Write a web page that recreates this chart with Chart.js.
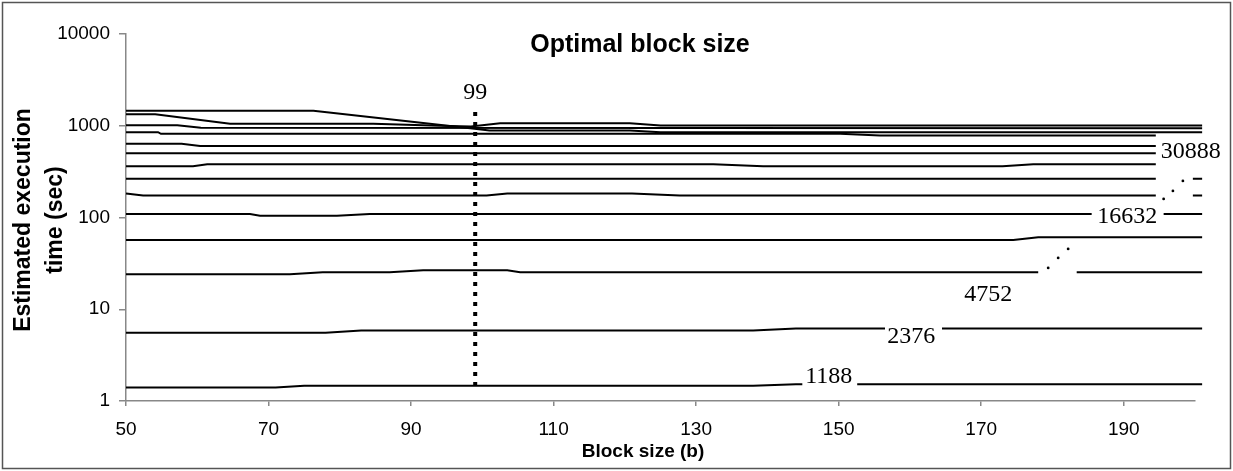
<!DOCTYPE html>
<html>
<head>
<meta charset="utf-8">
<script src="https://cdn.jsdelivr.net/npm/chart.js@4/dist/chart.umd.min.js"></script>
<style>
  html, body { margin: 0; padding: 0; background: #fff; }
  #wrap { width: 1233px; height: 471px; position: relative; }
</style>
</head>
<body>
<div id="wrap"><canvas id="c" width="1233" height="471"></canvas></div>
<script>
// Estimated execution time (sec) against block size b, one curve per matrix size.
// Each curve is given by the block sizes where it bends; null leaves a gap for a label.
const xTicks = [50, 70, 90, 110, 130, 150, 170, 190];
const yTicks = [1, 10, 100, 1000, 10000];

const topA_b = [50, 76.3, 98.3, 101, 120.7, 125, 201];
const topA_t = [1453, 1453, 937, 887, 887, 847, 847];

const topB_b = [50, 54.1, 64.6, 84.7, 94, 98.4, 102.5, 120.7, 125, 201];
const topB_t = [1338, 1338, 1049, 1049, 997, 980, 1062, 1062, 1005, 1005];

const topC_b = [50, 57.2, 60.5, 201];
const topC_t = [1010, 1010, 949, 940];

const topD_b = [50, 54.5, 54.9, 150.2, 155.8, 194.5];
const topD_t = [851, 851, 816, 816, 782, 782];

const c10_b = [50, 57.8, 60.4, 194.5];
const c10_t = [635, 635, 601, 601];

const c9_b = [50, 194.5];
const c9_t = [502, 502];

const c8_b = [50, 59.4, 61.4, 132.4, 139.4, 173, 177.3, 194.5];
const c8_t = [361, 361, 381, 381, 361, 361, 381, 381];

const c7_b = [50, 194.5, 197, 199.7, 201];
const c7_t = [264, 264, null, 264, 264];

const c6_b = [50, 52.4, 100.6, 103.5, 121, 127.7, 194.5, 197, 199.7, 201];
const c6_t = [183, 174, 174, 183, 183, 174, 174, null, 174, 174];

const n16632_b = [50, 67.4, 68.8, 79.6, 84.2, 185.5, 190, 195.6, 201];
const n16632_t = [109.4, 109.4, 104.6, 104.6, 109.4, 109.4, null, 109.4, 109.4];

const c4_b = [50, 174.5, 178, 201];
const c4_t = [57, 57, 61, 61];

const n4752_b = [50, 73, 77.6, 87, 91.7, 103.5, 105.3, 178, 180.5, 183.4, 201];
const n4752_t = [24.1, 24.1, 25.3, 25.3, 26.6, 26.6, 25.3, 25.3, null, 25.3, 25.3];

const n2376_b = [50, 78, 83, 138, 144, 156.5, 160, 164.5, 201];
const n2376_t = [5.56, 5.56, 5.87, 5.87, 6.15, 6.15, null, 6.15, 6.15];

const n1188_b = [50, 71, 75, 138, 144, 144.9, 148, 152.6, 201];
const n1188_t = [1.40, 1.40, 1.47, 1.47, 1.52, 1.52, null, 1.52, 1.52];

// Optimal block size marker
const optimalB = 99;
const optimalSpan = [1.46, 1420];

// Labels written on the curves, in data coordinates
const labelText = ['99', '1188', '2376', '4752', '16632', '30888'];
const labelB    = [99, 148.6, 160.2, 171.0, 190.5, 199.4];
const labelT    = [2286, 1.84, 5.03, 14.3, 101.5, 523];

// Ellipsis dots standing for the curves that are not labelled
const dotB = [179.4, 180.8, 182.2, 195.6, 196.9, 198.3];
const dotT = [28.2, 36.3, 45.5, 159.5, 195, 250.6];

const curves = [
  [topA_b, topA_t], [topB_b, topB_t], [topC_b, topC_t], [topD_b, topD_t],
  [c10_b, c10_t], [c9_b, c9_t], [c8_b, c8_t], [c7_b, c7_t], [c6_b, c6_t],
  [n16632_b, n16632_t], [c4_b, c4_t], [n4752_b, n4752_t],
  [n2376_b, n2376_t], [n1188_b, n1188_t]
];

const toPoints = (bs, ts) => bs.map((b, i) => ({ x: b, y: ts[i] }));

const datasets = curves.map(([bs, ts]) => ({
  data: toPoints(bs, ts),
  borderColor: '#000',
  borderWidth: 2,
  pointRadius: 0,
  tension: 0,
  spanGaps: false,
  clip: false
}));

datasets.push({
  data: [{ x: optimalB, y: optimalSpan[0] }, { x: optimalB, y: optimalSpan[1] }],
  borderColor: '#000',
  borderWidth: 4,
  borderDash: [4, 6],
  borderCapStyle: 'butt',
  pointRadius: 0
});

datasets.push({
  type: 'scatter',
  data: toPoints(dotB, dotT),
  pointRadius: 1.4,
  pointBackgroundColor: '#000',
  pointBorderWidth: 0,
  showLine: false,
  clip: false
});

const decorations = {
  id: 'decorations',
  afterDatasetsDraw(chart) {
    const { ctx, scales: { x, y } } = chart;
    ctx.save();
    // curve labels
    ctx.fillStyle = '#000';
    ctx.font = '24px "Liberation Serif", "Times New Roman", serif';
    ctx.textAlign = 'center';
    ctx.textBaseline = 'middle';
    labelText.forEach((t, i) => {
      ctx.fillText(t, x.getPixelForValue(labelB[i]), y.getPixelForValue(labelT[i]));
    });
    // chart title
    ctx.font = 'bold 25px "Liberation Sans", Arial, sans-serif';
    ctx.fillText('Optimal block size', 640, 45);
    // x axis title
    ctx.font = 'bold 19px "Liberation Sans", Arial, sans-serif';
    ctx.fillText('Block size (b)', 643, 452);
    // y axis title
    ctx.save();
    ctx.translate(40, 220);
    ctx.rotate(-Math.PI / 2);
    ctx.font = 'bold 23px "Liberation Sans", Arial, sans-serif';
    ctx.fillText('Estimated execution', 0, -16);
    ctx.fillText('time (sec)', 0, 16);
    ctx.restore();
    // frame around the whole chart
    ctx.strokeStyle = '#555';
    ctx.lineWidth = 1.5;
    ctx.strokeRect(2.5, 2.5, 1228, 466);
    ctx.restore();
  }
};

new Chart(document.getElementById('c'), {
  type: 'line',
  data: { datasets },
  options: {
    responsive: false,
    animation: false,
    layout: { padding: { left: 0, right: 38, top: 34, bottom: 0 } },
    plugins: { legend: { display: false }, tooltip: { enabled: false }, title: { display: false } },
    scales: {
      x: {
        type: 'linear',
        min: 50,
        max: 200,
        afterBuildTicks: (s) => { s.ticks = xTicks.map(v => ({ value: v })); },
        afterFit: (s) => { s.height = 70; },
        border: { color: '#888', width: 1.5 },
        grid: { drawOnChartArea: false, drawTicks: true, tickLength: 5, color: '#888', lineWidth: 1.5 },
        ticks: {
          color: '#000',
          padding: 12,
          maxRotation: 0,
          font: { family: '"Liberation Sans", Arial, sans-serif', size: 19 },
          callback: (v) => String(v)
        }
      },
      y: {
        type: 'logarithmic',
        min: 1,
        max: 10000,
        afterBuildTicks: (s) => { s.ticks = yTicks.map(v => ({ value: v })); },
        afterFit: (s) => { s.width = 126; },
        border: { color: '#888', width: 1.5 },
        grid: { drawOnChartArea: false, drawTicks: true, tickLength: 7, color: '#888', lineWidth: 1.5 },
        ticks: {
          color: '#000',
          padding: 9,
          font: { family: '"Liberation Sans", Arial, sans-serif', size: 19 },
          callback: (v) => String(v)
        }
      }
    }
  },
  plugins: [decorations]
});
</script>
</body>
</html>
